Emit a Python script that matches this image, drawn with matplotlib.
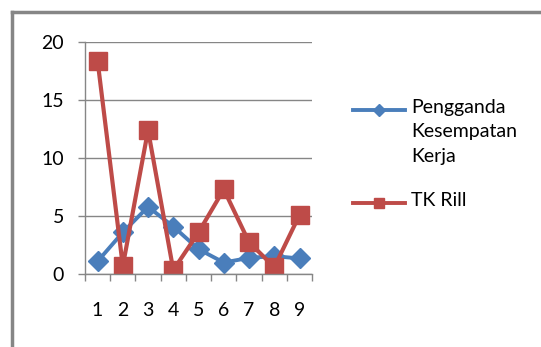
import numpy as np
import matplotlib.pyplot as plt
from matplotlib.lines import Line2D

plt.rcParams['font.family'] = ['Lato', 'DejaVu Sans']

periode = [1, 2, 3, 4, 5, 6, 7, 8, 9]
pengganda = [1.1, 3.6, 5.8, 4.1, 2.15, 1.0, 1.4, 1.55, 1.35]
tk_rill = [18.4, 0.7, 12.4, 0.35, 3.6, 7.3, 2.75, 0.6, 5.1]
nama_seri = ['Pengganda\nKesempatan\nKerja', 'TK Rill']

blue = '#4A7EBB'
red = '#BE4B48'
grey = '#868686'

W, H = 541, 347
fig = plt.figure(figsize=(W / 100, H / 100), dpi=100)
ax = fig.add_axes([0.157, 0.210, 0.420, 0.669])

ax.plot(periode, pengganda, color=blue, lw=2.8, marker='D', ms=10)
ax.plot(periode, tk_rill, color=red, lw=3, marker='s', ms=13)

ax.set_xlim(0.5, 9.5)
ax.set_ylim(0, 20)
ax.set_yticks([0, 5, 10, 15, 20])
ax.set_xticks(periode)
ax.set_xticks(np.arange(0.5, 10, 1), minor=True)
ax.tick_params(axis='x', which='major', length=0, pad=20, labelsize=14)
ax.tick_params(axis='x', which='minor', length=5, color=grey, width=1, direction='out')
ax.tick_params(axis='y', length=5, color=grey, width=1, pad=10, labelsize=14)
ax.grid(axis='y', color=grey, lw=1)
ax.set_axisbelow(True)
for s in ['top', 'right']:
    ax.spines[s].set_visible(False)
for s in ['left', 'bottom']:
    ax.spines[s].set_color(grey)
    ax.spines[s].set_linewidth(1)

# legend drawn by hand: short line with marker, label to the right
def px(x, y):
    return x / W, 1 - y / H

for (y, col, mk, ms), label in zip([(110, blue, 'D', 6), (203, red, 's', 7.5)], nama_seri):
    x0, yy = px(353, y)
    x1, _ = px(405, y)
    xm, _ = px(379, y)
    fig.add_artist(Line2D([x0, x1], [yy, yy], color=col, lw=2.8, transform=fig.transFigure))
    fig.add_artist(Line2D([xm], [yy], color=col, marker=mk, ms=ms, transform=fig.transFigure))
    tx, ty = px(411, y - 11)
    fig.text(tx, ty, label, fontsize=14, va='top', ha='left', linespacing=1.52)

# outer chart border
fig.add_artist(Line2D([0.022, 0.022], [0, 0.965], color=grey, lw=2.5,
                      transform=fig.transFigure))
fig.add_artist(Line2D([0.022, 1.0], [0.965, 0.965], color=grey, lw=2.5,
                      transform=fig.transFigure))

fig.savefig('out.png', dpi=100)
